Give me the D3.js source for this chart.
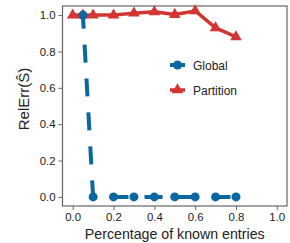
<!DOCTYPE html>
<html><head><meta charset="utf-8">
<script src="https://cdn.jsdelivr.net/npm/d3@7"></script>
<style>body{margin:0;background:#fff}svg{display:block}text{font-family:"Liberation Sans",Arial,sans-serif}</style>
</head><body>
<script>
const globalX = [0.05, 0.1, 0.2, 0.3, 0.4, 0.5, 0.6, 0.7, 0.8];
const globalY = [1.0, 0.0, 0.0, 0.0, 0.0, 0.0, 0.0, 0.0, 0.0];
const partX = [0.0, 0.05, 0.1, 0.2, 0.3, 0.4, 0.5, 0.6, 0.7, 0.8];
const partY = [1.0, 1.0, 1.0, 1.0, 1.01, 1.018, 1.003, 1.023, 0.93, 0.88];
const xTicks = [0.0, 0.2, 0.4, 0.6, 0.8, 1.0];
const yTicks = [0.0, 0.2, 0.4, 0.6, 0.8, 1.0];
const seriesNames = ["Global", "Partition"];
const blue = "#0a67a0", red = "#d33533";

const W = 290, H = 243;
const L = 62.5, R = 287, T = 6, B = 206;
const svg = d3.select("body").append("svg").attr("width", W).attr("height", H);
const x = d3.scaleLinear().domain([-0.05, 1.05]).range([L, R]);
const y = d3.scaleLinear().domain([-0.05, 1.05]).range([B, T]);

const axisCol = "#666";
const gx = svg.append("g").attr("transform", `translate(0,${B})`)
  .call(d3.axisBottom(x).tickValues(xTicks).tickFormat(d3.format(".1f")).tickSizeOuter(0).tickSize(4).tickPadding(3));
const gy = svg.append("g").attr("transform", `translate(${L},0)`)
  .call(d3.axisLeft(y).tickValues(yTicks).tickFormat(d3.format(".1f")).tickSizeOuter(0).tickSize(4).tickPadding(3));
[gx, gy].forEach(g => {
  g.select(".domain").remove();
  g.selectAll("line").attr("stroke", axisCol).attr("stroke-width", 1);
  g.selectAll("text").attr("fill", "#222").style("font-size", "11.4px").style("font-family", '"Liberation Sans",Arial,sans-serif');
});
svg.append("rect").attr("x", L).attr("y", T).attr("width", R - L).attr("height", B - T)
  .attr("fill", "none").attr("stroke", axisCol).attr("stroke-width", 1.2);

const line = d3.line().x(d => x(d[0])).y(d => y(d[1]));
const gData = globalX.map((v, i) => [v, globalY[i]]);
const pData = partX.map((v, i) => [v, partY[i]]);

svg.append("path").datum(pData).attr("d", line).attr("fill", "none")
  .attr("stroke", red).attr("stroke-width", 3.5).attr("stroke-linejoin", "round");
const tri = d3.symbol().type(d3.symbolTriangle).size(58);
svg.selectAll(".pt").data(pData).enter().append("path")
  .attr("transform", d => `translate(${x(d[0])},${y(d[1])})`).attr("d", tri).attr("fill", red);

svg.append("path").datum(gData).attr("d", line).attr("fill", "none")
  .attr("stroke", blue).attr("stroke-width", 4).attr("stroke-dasharray", "18,16").attr("stroke-dashoffset", 4.5);
svg.selectAll(".gt").data(gData).enter().append("circle")
  .attr("cx", d => x(d[0])).attr("cy", d => y(d[1])).attr("r", 4.5).attr("fill", blue);

// legend
const leg = svg.append("g");
[[blue, 65], [red, 90]].forEach(([c, yy], i) => {
  leg.append("line").attr("x1", 170).attr("x2", 185).attr("y1", yy).attr("y2", yy)
    .attr("stroke", c).attr("stroke-width", i === 0 ? 4 : 3.5);
  if (i === 0) leg.append("circle").attr("cx", 177.5).attr("cy", yy).attr("r", 4.5).attr("fill", c);
  else leg.append("path").attr("transform", `translate(177.5,${yy})`).attr("d", tri).attr("fill", c);
  leg.append("text").attr("x", 193).attr("y", yy + 4.5).text(seriesNames[i])
    .style("font-size", "12px").attr("fill", "#222");
});

// axis labels
svg.append("text").attr("x", (L + R) / 2).attr("y", 239).attr("text-anchor", "middle")
  .style("font-size", "14.2px").attr("fill", "#222").text("Percentage of known entries");
svg.append("text").attr("transform", `translate(29,99) rotate(-90)`).attr("text-anchor", "middle")
  .style("font-size", "15px").attr("fill", "#222").text("RelErr(Ŝ)");
</script>
</body></html>
